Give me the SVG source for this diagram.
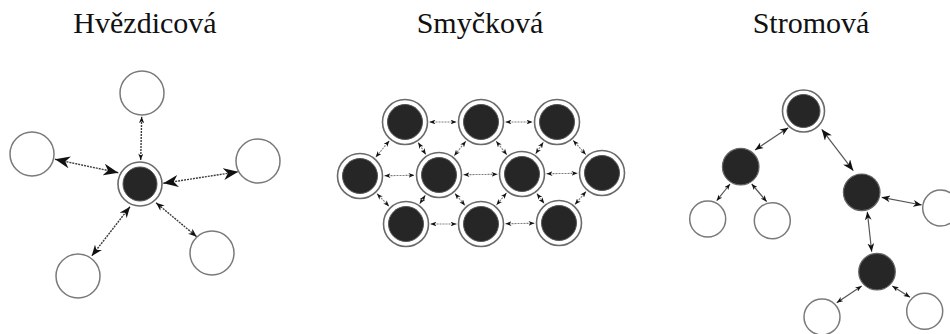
<svg xmlns="http://www.w3.org/2000/svg" width="950" height="334" viewBox="0 0 950 334">
  <style>
    .title { font-size: 30px; fill: #111; text-anchor: middle; }
    .white { fill: #fff; stroke: #7a7a7a; stroke-width: 1.5; }
    .ring { fill: #fff; stroke: #6a6a6a; stroke-width: 1.6; }
    .core { fill: #262626; stroke: #555; stroke-width: 1; }
    .dark { fill: #262626; stroke: #666; stroke-width: 1.2; }
    .star line { stroke: #3c3c3c; stroke-width: 1.4; stroke-dasharray: 2 1; }
    .mesh line { stroke: #808080; stroke-width: 1.1; stroke-dasharray: 2 1; marker-start: url(#tiny); marker-end: url(#tiny); }
    .tree line { stroke: #555; stroke-width: 1.2; }
    .head { fill: #111; }
  </style>
  <defs>
    <!-- swept-back arrowheads in several sizes -->
    <marker id="big" viewBox="0 0 10 8" refX="10" refY="4" markerWidth="15" markerHeight="12" markerUnits="userSpaceOnUse" orient="auto-start-reverse">
      <path class="head" d="M0,0 L10,4 L0,8 L3,4 Z"/>
    </marker>
    <marker id="mbig" viewBox="0 0 10 8" refX="10" refY="4" markerWidth="11" markerHeight="8.8" markerUnits="userSpaceOnUse" orient="auto-start-reverse">
      <path class="head" d="M0,0 L10,4 L0,8 L3,4 Z"/>
    </marker>
    <marker id="med" viewBox="0 0 10 8" refX="10" refY="4" markerWidth="8.5" markerHeight="6.8" markerUnits="userSpaceOnUse" orient="auto-start-reverse">
      <path class="head" d="M0,0 L10,4 L0,8 L3,4 Z"/>
    </marker>
    <marker id="small" viewBox="0 0 10 8" refX="10" refY="4" markerWidth="6.5" markerHeight="5.2" markerUnits="userSpaceOnUse" orient="auto-start-reverse">
      <path class="head" d="M0,0 L10,4 L0,8 L3,4 Z"/>
    </marker>
    <marker id="tiny" viewBox="0 0 10 8" refX="10" refY="4" markerWidth="6" markerHeight="4.8" markerUnits="userSpaceOnUse" orient="auto-start-reverse">
      <path class="head" d="M0,0 L10,4 L0,8 L3,4 Z"/>
    </marker>
  </defs>

  <rect width="950" height="334" fill="#fff"/>

  <!-- titles -->
  <g font-family="'Liberation Serif', 'DejaVu Serif', serif">
    <text class="title" x="145" y="33">Hvězdicová</text>
    <text class="title" x="480" y="33">Smyčková</text>
    <text class="title" x="811" y="33">Stromová</text>
  </g>

  <!-- connectors -->
  <g id="connectors">
    <g class="star">
      <line x1="140.7" y1="160" x2="141.7" y2="116.7" marker-start="url(#small)" marker-end="url(#small)"/>
      <line x1="118.3" y1="172.7" x2="55" y2="159.3" marker-start="url(#big)" marker-end="url(#big)"/>
      <line x1="163.3" y1="183.3" x2="238.3" y2="171.7" marker-start="url(#big)" marker-end="url(#big)"/>
      <line x1="130" y1="206.7" x2="91.7" y2="256" marker-start="url(#mbig)" marker-end="url(#mbig)"/>
      <line x1="156" y1="202.7" x2="196.7" y2="236.7" marker-start="url(#med)" marker-end="url(#med)"/>
    </g>
    <g class="mesh">
      <line x1="429.5" y1="122" x2="456.5" y2="122"/>
      <line x1="505.5" y1="122" x2="532.5" y2="122"/>
      <line x1="384.5" y1="175.7" x2="414.5" y2="175.3"/>
      <line x1="463.5" y1="174.7" x2="497.5" y2="174.3"/>
      <line x1="546.5" y1="173.7" x2="577.5" y2="173.3"/>
      <line x1="430.5" y1="224" x2="456.5" y2="224"/>
      <line x1="505.5" y1="223.7" x2="534.5" y2="223.3"/>
      <line x1="389.3" y1="140.8" x2="375.7" y2="157.2"/>
      <line x1="418.2" y1="142.6" x2="425.8" y2="154.4"/>
      <line x1="465.8" y1="141.2" x2="454.2" y2="155.8"/>
      <line x1="496.2" y1="141.2" x2="506.8" y2="154.8"/>
      <line x1="543.3" y1="142.3" x2="535.7" y2="153.7"/>
      <line x1="573.2" y1="140.4" x2="585.8" y2="154.6"/>
      <line x1="377" y1="193.7" x2="389" y2="206.3"/>
      <line x1="425.3" y1="195.3" x2="419.7" y2="203.7"/>
      <line x1="455" y1="193.6" x2="465" y2="205.4"/>
      <line x1="506.5" y1="192.9" x2="496.5" y2="205.1"/>
      <line x1="536.8" y1="193.6" x2="544.2" y2="203.4"/>
      <line x1="586" y1="191.6" x2="575" y2="204.4"/>
    </g>
    <g class="tree">
      <line x1="788.3" y1="127.7" x2="755" y2="150" marker-start="url(#med)" marker-end="url(#med)"/>
      <line x1="821.7" y1="129.3" x2="853.3" y2="170.7" marker-start="url(#mbig)" marker-end="url(#mbig)"/>
      <line x1="730" y1="184" x2="716.7" y2="200.7" marker-start="url(#tiny)" marker-end="url(#tiny)"/>
      <line x1="751.7" y1="184" x2="766.7" y2="201.7" marker-start="url(#tiny)" marker-end="url(#small)"/>
      <line x1="881.7" y1="197.3" x2="921.7" y2="205" marker-start="url(#med)" marker-end="url(#med)"/>
      <line x1="867.3" y1="211.7" x2="871.7" y2="251.7" marker-start="url(#med)" marker-end="url(#med)"/>
      <line x1="861.7" y1="286" x2="836.7" y2="302.7" marker-start="url(#small)" marker-end="url(#small)"/>
      <line x1="892.3" y1="286" x2="910" y2="297.3" marker-start="url(#small)" marker-end="url(#small)"/>
    </g>
  </g>

  <!-- star topology -->
  <g id="star-hub"><circle class="ring" cx="140" cy="184" r="22"/><circle class="core" cx="140" cy="184" r="17"/></g>
  <g id="star-top"><circle class="white" cx="142" cy="93" r="22"/></g>
  <g id="star-left"><circle class="white" cx="32" cy="154" r="22"/></g>
  <g id="star-right"><circle class="white" cx="258" cy="161" r="22"/></g>
  <g id="star-bottom-right"><circle class="white" cx="212" cy="253" r="22"/></g>
  <g id="star-bottom-left"><circle class="white" cx="78" cy="276" r="22"/></g>

  <!-- mesh topology -->
  <g id="mesh-t1"><circle class="ring" cx="405" cy="122" r="22.5"/><circle class="core" cx="405" cy="122" r="17.5"/></g>
  <g id="mesh-t2"><circle class="ring" cx="481" cy="122" r="22.5"/><circle class="core" cx="481" cy="122" r="17.5"/></g>
  <g id="mesh-t3"><circle class="ring" cx="557" cy="122" r="22.5"/><circle class="core" cx="557" cy="122" r="17.5"/></g>
  <g id="mesh-m1"><circle class="ring" cx="360" cy="176" r="22.5"/><circle class="core" cx="360" cy="176" r="17.5"/></g>
  <g id="mesh-m2"><circle class="ring" cx="439" cy="175" r="22.5"/><circle class="core" cx="439" cy="175" r="17.5"/></g>
  <g id="mesh-m3"><circle class="ring" cx="522" cy="174" r="22.5"/><circle class="core" cx="522" cy="174" r="17.5"/></g>
  <g id="mesh-m4"><circle class="ring" cx="602" cy="173" r="22.5"/><circle class="core" cx="602" cy="173" r="17.5"/></g>
  <g id="mesh-b1"><circle class="ring" cx="406" cy="224" r="22.5"/><circle class="core" cx="406" cy="224" r="17.5"/></g>
  <g id="mesh-b2"><circle class="ring" cx="481" cy="224" r="22.5"/><circle class="core" cx="481" cy="224" r="17.5"/></g>
  <g id="mesh-b3"><circle class="ring" cx="559" cy="223" r="22.5"/><circle class="core" cx="559" cy="223" r="17.5"/></g>

  <!-- tree topology -->
  <g id="tree-root"><circle class="ring" cx="803.5" cy="111" r="21"/><circle class="core" cx="803.5" cy="111" r="16.5"/></g>
  <g id="tree-left"><circle class="dark" cx="740.7" cy="166.7" r="18.3"/></g>
  <g id="tree-right"><circle class="dark" cx="861.7" cy="192.3" r="18.3"/></g>
  <g id="tree-lower"><circle class="dark" cx="877" cy="271.7" r="18.3"/></g>
  <g id="tree-left-a"><circle class="white" cx="707.7" cy="219" r="18"/></g>
  <g id="tree-left-b"><circle class="white" cx="772.3" cy="220.7" r="18"/></g>
  <g id="tree-right-leaf"><circle class="white" cx="940.7" cy="208" r="18"/></g>
  <g id="tree-lower-a"><circle class="white" cx="822" cy="317" r="18"/></g>
  <g id="tree-lower-b"><circle class="white" cx="924.7" cy="311.3" r="18"/></g>
</svg>
